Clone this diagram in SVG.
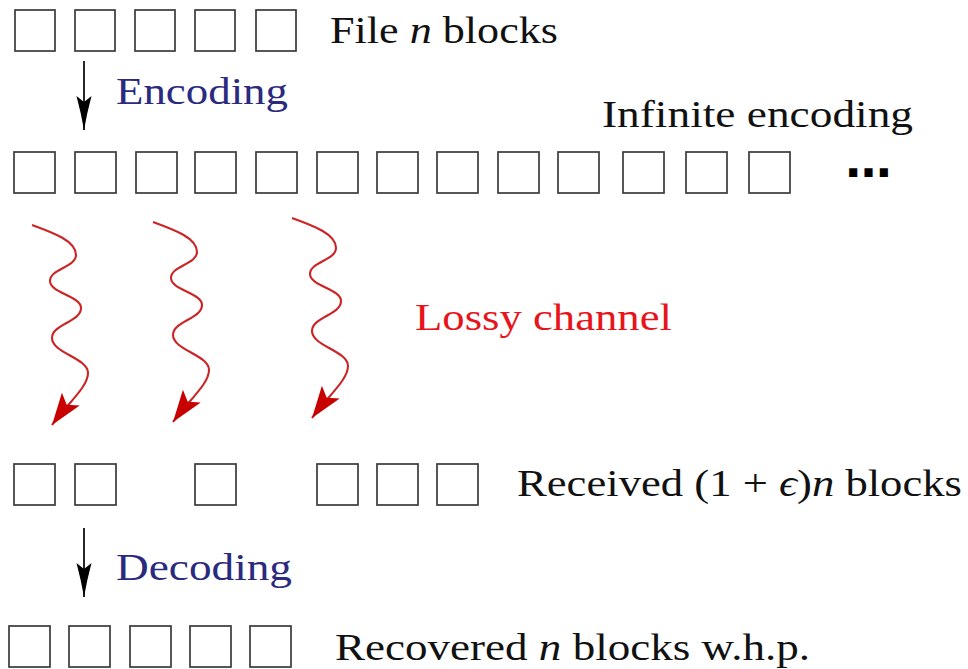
<svg xmlns="http://www.w3.org/2000/svg" width="968" height="669" viewBox="0 0 968 669">
  <style>
    .blk { fill: #ffffff; stroke: #3a3a3a; stroke-width: 1.7; }
    .lbl { font-family: "Liberation Serif", "Times New Roman", serif; font-size: 38px; fill: #111111; }
    .op  { font-family: "Liberation Serif", "Times New Roman", serif; font-size: 38px; fill: #2a2a7e; }
    .loss { font-family: "Liberation Serif", "Times New Roman", serif; font-size: 38px; fill: #e8141c; }
    .it { font-style: italic; }
    .dots { font-family: "DejaVu Sans", sans-serif; font-weight: bold; font-size: 46px; fill: #000000; }
    .step { fill: none; stroke: #000000; stroke-width: 1.7; marker-end: url(#headBlack); }
    .wave { fill: none; stroke: #cc2424; stroke-width: 2.1; marker-end: url(#headRed); }
  </style>
  <defs>
    <marker id="headBlack" markerUnits="userSpaceOnUse" markerWidth="40" markerHeight="18" viewBox="-36 -9 40 18" refX="0" refY="0" orient="auto">
      <path d="M0,0 Q-18,-3.2 -34,-7.5 L-28,0 L-34,7.5 Q-18,3.2 0,0 Z" fill="#000000"/>
    </marker>
    <marker id="headRed" markerUnits="userSpaceOnUse" markerWidth="38" markerHeight="28" viewBox="-34 -14 38 28" refX="0" refY="0" orient="auto">
      <path d="M0,0 L-32,-11 L-25,0 L-32,11 Z" fill="#c80000"/>
    </marker>
    <!-- one wavy channel stroke, drawn from its own origin -->
    <path id="wavy" d="M0,0 C22,8 44,16 44,30 C44,42 18,44 18,56 C18,68 49,71 49,83 C49,97 20,99 20,113 C20,128 56,133 56,148 C56,162 36,178 20,200"/>
  </defs>

  <!-- file: n blocks -->
  <g id="file">
    <rect class="blk" x="15" y="10" width="40" height="41"/>
    <rect class="blk" x="75" y="10" width="40" height="41"/>
    <rect class="blk" x="135" y="10" width="40" height="41"/>
    <rect class="blk" x="195" y="10" width="40" height="41"/>
    <rect class="blk" x="256" y="10" width="40" height="41"/>
    <text class="lbl" x="330" y="43" textLength="228" lengthAdjust="spacingAndGlyphs">File <tspan class="it">n</tspan> blocks</text>
  </g>

  <!-- infinite encoding -->
  <g id="encoded">
    <rect class="blk" x="14" y="152" width="41" height="41"/>
    <rect class="blk" x="75" y="152" width="41" height="41"/>
    <rect class="blk" x="136" y="152" width="41" height="41"/>
    <rect class="blk" x="195" y="152" width="41" height="41"/>
    <rect class="blk" x="256" y="152" width="41" height="41"/>
    <rect class="blk" x="317" y="152" width="41" height="41"/>
    <rect class="blk" x="377" y="152" width="41" height="41"/>
    <rect class="blk" x="437" y="152" width="41" height="41"/>
    <rect class="blk" x="498" y="152" width="41" height="41"/>
    <rect class="blk" x="558" y="152" width="41" height="41"/>
    <rect class="blk" x="623" y="152" width="41" height="41"/>
    <rect class="blk" x="686" y="152" width="41" height="41"/>
    <rect class="blk" x="749" y="152" width="41" height="41"/>
    <text class="dots" x="868.5" y="177" text-anchor="middle">…</text>
    <text class="lbl" x="602" y="127" textLength="311" lengthAdjust="spacingAndGlyphs">Infinite encoding</text>
  </g>

  <!-- received blocks -->
  <g id="received">
    <rect class="blk" x="14" y="464" width="41" height="41"/>
    <rect class="blk" x="75" y="464" width="41" height="41"/>
    <rect class="blk" x="195" y="464" width="41" height="41"/>
    <rect class="blk" x="317" y="464" width="41" height="41"/>
    <rect class="blk" x="377" y="464" width="41" height="41"/>
    <rect class="blk" x="437" y="464" width="41" height="41"/>
    <text class="lbl" x="517" y="496" textLength="445" lengthAdjust="spacingAndGlyphs">Received (1 + <tspan class="it">ϵ</tspan>)<tspan class="it">n</tspan> blocks</text>
  </g>

  <!-- recovered blocks -->
  <g id="recovered">
    <rect class="blk" x="9" y="626" width="41" height="41"/>
    <rect class="blk" x="69" y="626" width="41" height="41"/>
    <rect class="blk" x="130" y="626" width="41" height="41"/>
    <rect class="blk" x="190" y="626" width="41" height="41"/>
    <rect class="blk" x="250" y="626" width="41" height="41"/>
    <text class="lbl" x="335" y="660" textLength="475" lengthAdjust="spacingAndGlyphs">Recovered <tspan class="it">n</tspan> blocks w.h.p.</text>
  </g>

  <!-- connectors -->
  <g id="connectors">
    <g id="encoding">
      <line class="step" x1="84" y1="61" x2="84" y2="130"/>
      <text class="op" x="116" y="104" textLength="172" lengthAdjust="spacingAndGlyphs">Encoding</text>
    </g>
    <g id="channel">
      <use href="#wavy" class="wave" transform="translate(32,225)"/>
      <use href="#wavy" class="wave" transform="translate(153,222)"/>
      <use href="#wavy" class="wave" transform="translate(292,218)"/>
      <text class="loss" x="415" y="330" textLength="257" lengthAdjust="spacingAndGlyphs">Lossy channel</text>
    </g>
    <g id="decoding">
      <line class="step" x1="84" y1="528" x2="84" y2="597"/>
      <text class="op" x="116" y="580" textLength="176" lengthAdjust="spacingAndGlyphs">Decoding</text>
    </g>
  </g>
</svg>
